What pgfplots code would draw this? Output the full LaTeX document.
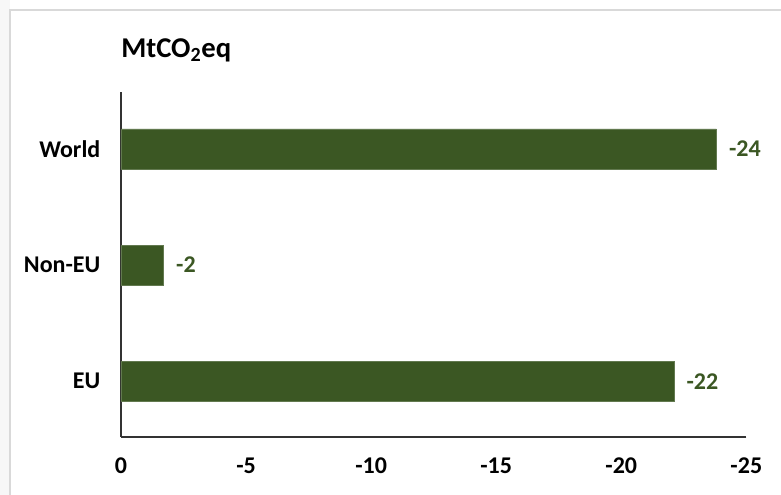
\documentclass[border=0pt]{standalone}
\usepackage{pgfplots}
\pgfplotsset{compat=1.18}
\usepackage{fontspec}
\setmainfont{Carlito}
\definecolor{bargreen}{HTML}{3B5723}
\definecolor{framegray}{HTML}{D9D9D9}
\begin{document}
\begin{tikzpicture}[x=0.75pt,y=0.75pt]
\begin{axis}[
  name=ax,
  at={(0,0)}, anchor=south west,
  scale only axis,
  width=469pt, height=258.75pt,
  xbar, bar width=30pt,
  xmin=-25, xmax=0, x dir=reverse,
  ymin=-0.48, ymax=2.49,
  xtick={0,-5,-10,-15,-20,-25},
  ytick={0,1,2},
  yticklabels={EU,Non-EU,World},
  axis x line*=bottom, axis y line*=left,
  axis line style={black!80, line width=0.9pt},
  major tick length=0pt,
  /pgf/number format/assume math mode=true,
  tick label style={font=\fontsize{18}{21}\selectfont\bfseries},
  xticklabel style={yshift=-12pt},
  yticklabel style={xshift=-12pt},
  nodes near coords,
  nodes near coords style={font=\fontsize{18}{21}\selectfont\bfseries, text=bargreen,
    /pgf/number format/fixed, /pgf/number format/precision=0,
    /pgf/number format/assume math mode=true,
    anchor=west, xshift=6pt},
  clip=false,
]
\addplot[fill=bargreen, draw=bargreen!80!white, line width=0.4pt]
  coordinates {(-22.1,0) (-1.7,1) (-23.8,2)};
\end{axis}
\node[anchor=base west, inner sep=0pt, font=\fontsize{21.5}{24}\selectfont\bfseries]
  at ([yshift=258.75pt+26pt]ax.south west) {MtCO\textsubscript{2}eq};
\pgfresetboundingbox
\useasboundingbox ([xshift=-121*0.75pt, yshift=-58*0.75pt]ax.south west)
  rectangle ([xshift=660*0.75pt, yshift=437*0.75pt]ax.south west);
\fill[black!3] ([xshift=-121*0.75pt, yshift=-58*0.75pt]ax.south west)
  rectangle ([xshift=-111*0.75pt, yshift=437*0.75pt]ax.south west);
\draw[framegray, line width=1.2pt]
  ([xshift=-111*0.75pt, yshift=-58*0.75pt]ax.south west)
  -- ([xshift=-111*0.75pt, yshift=427*0.75pt]ax.south west)
  -- ([xshift=660*0.75pt, yshift=427*0.75pt]ax.south west);
\end{tikzpicture}
\end{document}
